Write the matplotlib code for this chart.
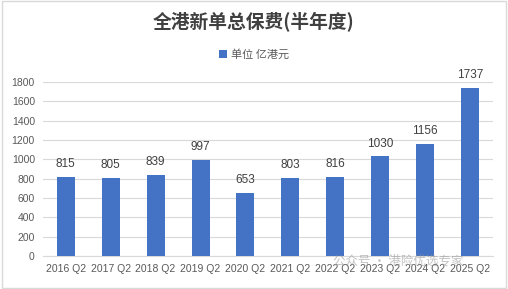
import numpy as np
import matplotlib.pyplot as plt
from matplotlib.patches import Rectangle

plt.rcParams['font.family'] = ['Noto Sans CJK SC', 'DejaVu Sans']

categories = ["2016 Q2", "2017 Q2", "2018 Q2", "2019 Q2", "2020 Q2",
              "2021 Q2", "2022 Q2", "2023 Q2", "2024 Q2", "2025 Q2"]
premiums = [815, 805, 839, 997, 653, 803, 816, 1030, 1156, 1737]
yticks = [0, 200, 400, 600, 800, 1000, 1200, 1400, 1600, 1800]

BAR = "#4472C4"
TXT = "#595959"
NUM = ["Liberation Sans", "DejaVu Sans"]

fig = plt.figure(figsize=(5.08, 2.89), dpi=100)
ax = fig.add_axes([0.085, 0.114, 0.885, 0.602])

x = np.arange(len(categories))
ax.bar(x, premiums, width=0.4, color=BAR, zorder=3, label="单位 亿港元")
for xi, v in zip(x, premiums):
    ax.annotate(str(v), (xi, v), xytext=(0, 5), textcoords="offset points",
                ha="center", va="bottom", fontsize=8.5, color="#404040",
                family=NUM)

ax.set_xlim(-0.5, len(categories) - 0.5)
ax.set_ylim(0, 1800)
ax.set_yticks(yticks)
ax.set_xticks(x)
ax.set_xticklabels(categories, fontsize=7.5, color=TXT, family=NUM)
ax.set_yticklabels([str(t) for t in yticks], fontsize=7.5, color=TXT, family=NUM)
ax.tick_params(length=0, pad=6)
ax.grid(axis="y", color="#D9D9D9", linewidth=0.8, zorder=0)
for s in ["top", "right", "left"]:
    ax.spines[s].set_visible(False)
ax.spines["bottom"].set_color("#D9D9D9")

fig.text(0.5, 0.925, "全港新单总保费(半年度)", ha="center", va="center",
         fontsize=13.5, fontweight="bold", color="#404040")
fig.legend(loc="center", bbox_to_anchor=(0.5, 0.81), frameon=False,
           fontsize=8, handlelength=0.7, handleheight=0.7, handletextpad=0.4,
           labelcolor=TXT)

# watermark
fig.text(0.655, 0.095, "公众号 · 港险优选专家", ha="left", va="center",
         fontsize=9, color="#9a9a9a", alpha=0.6)

# chart border
fig.patches.append(Rectangle((0.003, 0.004), 0.994, 0.992, transform=fig.transFigure,
                             fill=False, edgecolor="#D9D9D9", linewidth=1))

fig.savefig("out.png", dpi=100)
